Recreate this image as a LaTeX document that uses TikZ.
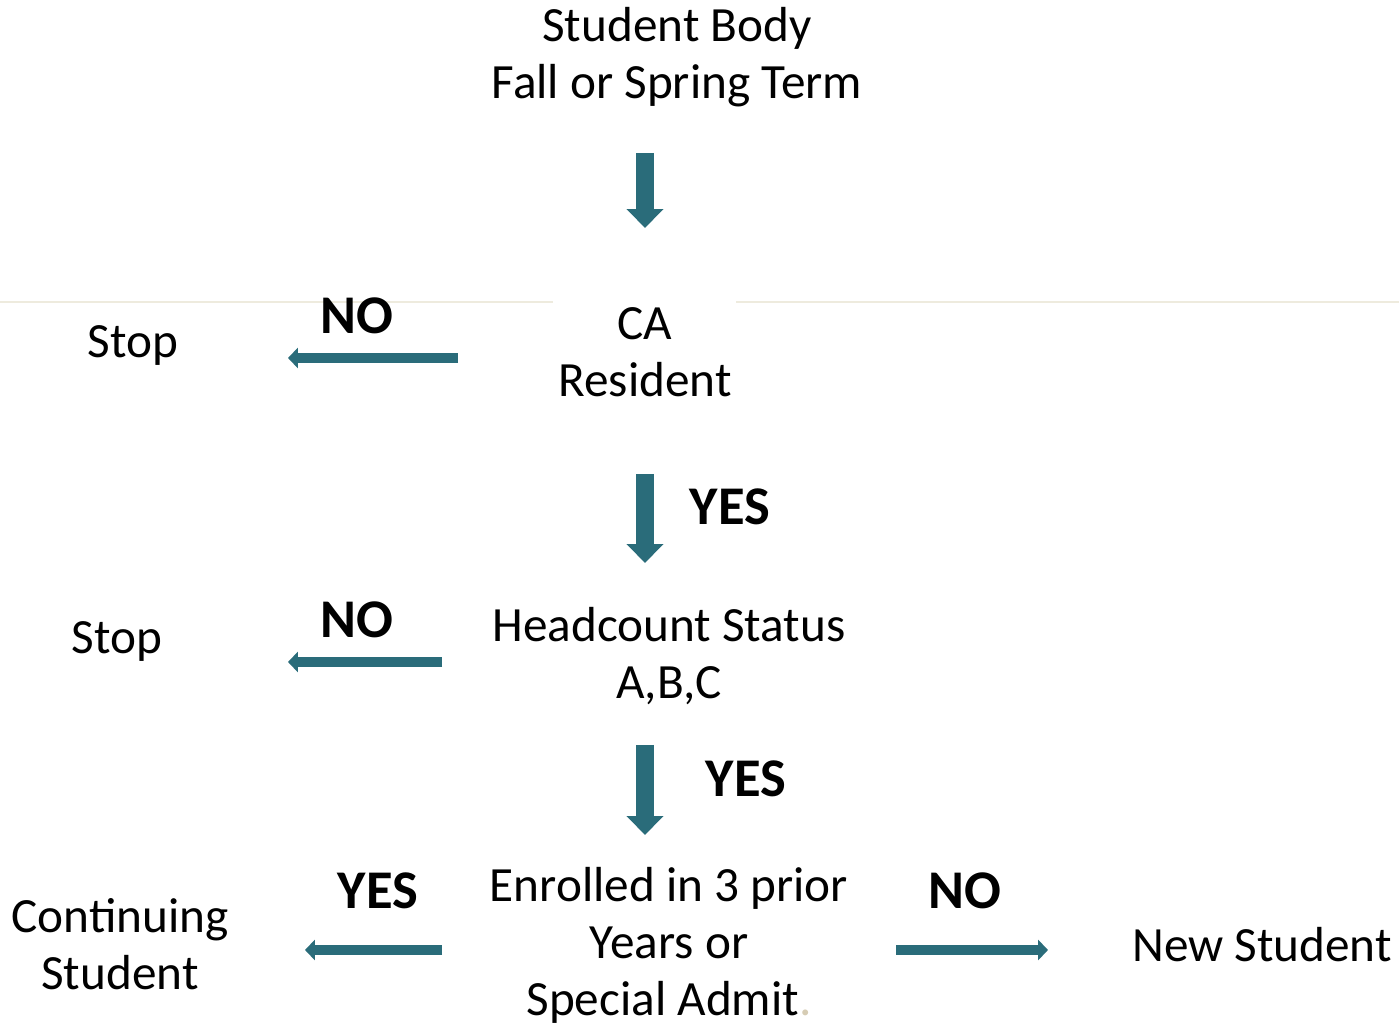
\documentclass[tikz,border=0pt]{standalone}
\usepackage{fontspec}
\setmainfont{Carlito}
\usepackage{xcolor}
\usetikzlibrary{arrows.meta}

\definecolor{flowteal}{RGB}{42,108,122}
\definecolor{rulebeige}{RGB}{238,235,222}
\definecolor{dotbeige}{RGB}{214,204,180}

\begin{document}
\begin{tikzpicture}[
  x=0.01cm, y=-0.01cm,
  ftext/.style={align=center, inner sep=0pt, font=\fontsize{14}{16.2}\selectfont},
  flab/.style={inner sep=0pt, font=\fontsize{15.5}{16}\selectfont\bfseries},
  bigarr/.style={draw=flowteal, line width=5.1pt, -{Triangle[length=5.4pt, width=10.2pt]}},
  smallarr/.style={draw=flowteal, line width=2.8pt, -{Triangle[length=2.8pt, width=5.7pt]}}
]
\useasboundingbox (0,0) rectangle (1399,1028);
% faint rule
\draw[rulebeige, line width=0.4pt] (0,302) -- (553,302);
\draw[rulebeige, line width=0.4pt] (736,302) -- (1399,302);

% main column
\node[ftext] (body) at (677,57) {Student Body\\Fall or Spring Term};
\node[ftext] (ca) at (645,352) {CA\\Resident};
\node[ftext] (hc) at (669,656) {Headcount Status\\A,B,C};
\node[ftext] (enr) at (669,945) {Enrolled in 3 prior\\Years or\\Special Admit\textcolor{dotbeige}{.}};

% outcomes
\node[ftext] (stop1) at (133,345) {Stop};
\node[ftext] (stop2) at (117,641) {Stop};
\node[ftext] (cont) at (120,944) {Continuing\\Student};
\node[ftext] (new) at (1262,945) {New Student};

% arrow ends
\coordinate (d1a) at (645,153); \coordinate (d1b) at (645,228);
\coordinate (d2a) at (645,474); \coordinate (d2b) at (645,563);
\coordinate (d3a) at (645,745); \coordinate (d3b) at (645,835);
\coordinate (l1a) at (458,358); \coordinate (l1b) at (288,358);
\coordinate (l2a) at (442,662); \coordinate (l2b) at (288,662);
\coordinate (l3a) at (442,950); \coordinate (l3b) at (305,950);
\coordinate (r1a) at (896,950); \coordinate (r1b) at (1048,950);

\draw[bigarr] (d1a) -- (d1b);
\draw[bigarr] (d2a) -- (d2b);
\draw[bigarr] (d3a) -- (d3b);
\draw[smallarr] (l1a) -- (l1b);
\draw[smallarr] (l2a) -- (l2b);
\draw[smallarr] (l3a) -- (l3b);
\draw[smallarr] (r1a) -- (r1b);

% yes / no labels
\node[flab] (no1) at (357,316) {NO};
\node[flab] (yes1) at (730,507) {YES};
\node[flab] (no2) at (357,620) {NO};
\node[flab] (yes2) at (746,779) {YES};
\node[flab] (yes3) at (378,891) {YES};
\node[flab] (no3) at (965,891) {NO};
\end{tikzpicture}
\end{document}
